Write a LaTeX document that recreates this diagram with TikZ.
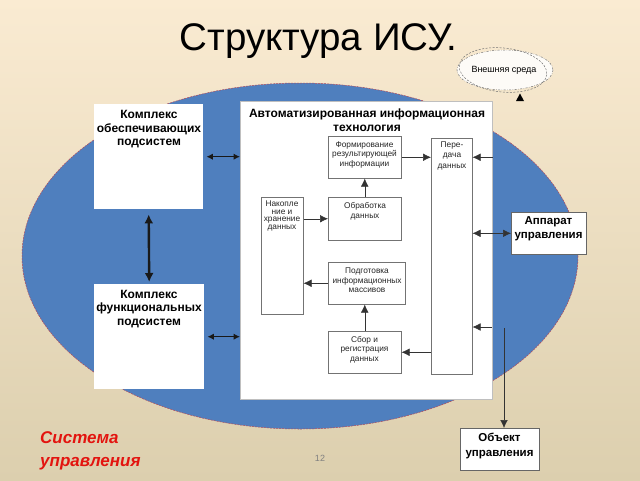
\documentclass[tikz,border=0pt]{standalone}
\usepackage{fontspec}
\setmainfont{Liberation Sans}
\usetikzlibrary{arrows.meta,shapes.geometric}
\definecolor{bgtop}{HTML}{FAEBD2}
\definecolor{bgbot}{HTML}{DCCFAE}
\definecolor{ellblue}{HTML}{4F7FBE}
\definecolor{ellred}{HTML}{B04A5A}
\definecolor{sysred}{HTML}{E3140F}
\begin{document}
\begin{tikzpicture}[x=1pt,y=-1pt,
  wbox/.style={draw=black!55, line width=0.5pt, fill=white, anchor=north west, inner sep=0pt},
  bbox/.style={draw=black!60, line width=0.6pt, fill=white, anchor=north west, inner sep=0pt},
  bigbox/.style={draw=black!25, line width=0.5pt, fill=white, anchor=north west, inner sep=0pt},
  plainbox/.style={fill=white, anchor=north west, inner sep=0pt},
  hd/.style={font=\bfseries\fontsize{12}{13.5}\selectfont, align=center, inner sep=0pt},
  sm/.style={font=\fontsize{8.3}{9.5}\selectfont, align=center, text=black!85, inner sep=0pt},
  arr/.style={-{Latex[length=8pt,width=7.5pt]}, line width=0.5pt, black!80},
  darr/.style={{Latex[length=8pt,width=7.5pt]}-{Latex[length=8pt,width=7.5pt]}, line width=0.5pt, black!80},
  karr/.style={{Latex[length=6.5pt,width=6.5pt]}-{Latex[length=6.5pt,width=6.5pt]}, line width=1.3pt, black!90},
  tarr/.style={{Latex[length=9pt,width=9pt]}-{Latex[length=9pt,width=9pt]}, line width=2.4pt, black!90}
]
\useasboundingbox (0,0) rectangle (640,480);
\shade[top color=bgtop, bottom color=bgbot] (0,0) rectangle (640,480);

% title
\node[font=\fontsize{38.5}{42}\selectfont, inner sep=0pt, anchor=base] (title) at (318.5,50) {Структура ИСУ.};

% big ellipse
\draw[fill=ellblue, draw=ellred, dash pattern=on 2pt off 1pt, line width=0.5pt] (300,256) ellipse [x radius=278, y radius=173];

% external environment cloud
\draw[fill=white, fill opacity=0.85, draw=black!55, dash pattern=on 2pt off 1.5pt on 0.5pt off 1.5pt, line width=0.5pt] (505,70) ellipse [x radius=48, y radius=20];
\draw[draw=black!55, dash pattern=on 2pt off 1.5pt, line width=0.5pt, rotate around={-6:(503,70)}] (503,70) ellipse [x radius=44, y radius=22];
\node[font=\fontsize{9}{10}\selectfont, inner sep=0pt] (ext) at (504,70) {Внешняя среда};
\fill[black] (516,101) -- (524,101) -- (520,93.5) -- cycle;

% left boxes
\node[plainbox, minimum width=109pt, minimum height=105pt] (k1) at (94,104) {};
\node[hd] (k1t) at (149,129.5) {Комплекс\\обеспечивающих\\подсистем};
\node[plainbox, minimum width=110pt, minimum height=105pt] (k2) at (94,284) {};
\node[hd] (k2t) at (149,309) {Комплекс\\функциональных\\подсистем};

% big box
\node[bigbox, minimum width=252pt, minimum height=298pt] (ait) at (240,101) {};
\node[hd] (aitt) at (367,120) {Автоматизированная информационная\\технология};

% inner boxes
\node[wbox, minimum width=73pt, minimum height=42pt] (form) at (328,136) {};
\node[sm] (formt) at (364.5,154.5) {Формирование\\результирующей\\информации};
\node[wbox, minimum width=73pt, minimum height=43pt] (obr) at (328,197) {};
\node[sm] (obrt) at (365,211.5) {Обработка\\данных};
\node[wbox, minimum width=42pt, minimum height=117pt] (nak) at (261,197) {};
\node[sm, font=\fontsize{8.3}{7.8}\selectfont] (nakt) at (282,216) {Накопле\\ние и\\хранение\\данных};
\node[wbox, minimum width=41pt, minimum height=236pt] (per) at (431,138) {};
\node[sm, font=\fontsize{8.3}{10.5}\selectfont] (pert) at (452,155.5) {Пере-\\дача\\данных};
\node[wbox, minimum width=77pt, minimum height=42pt] (podg) at (328,262) {};
\node[sm] (podgt) at (367,280.5) {Подготовка\\информационных\\массивов};
\node[wbox, minimum width=73pt, minimum height=42pt] (sbor) at (328,331) {};
\node[sm] (sbort) at (364.5,349.5) {Сбор и\\регистрация\\данных};

% right boxes
\node[bbox, minimum width=75pt, minimum height=42pt] (app) at (511,212) {};
\node[hd, font=\bfseries\fontsize{11.5}{14}\selectfont] (appt) at (548.5,229) {Аппарат\\управления};
\node[bbox, minimum width=79pt, minimum height=42pt] (obj) at (460,428) {};
\node[hd, font=\bfseries\fontsize{11.5}{15}\selectfont] (objt) at (499.5,446) {Объект\\управления};

% connectors outside
\draw[tarr] ([yshift=-5pt]k1.south) -- ([yshift=2pt]k2.north);
\draw[karr] ([xshift=3pt]k1.east) -- (k1.east -| ait.west);
\draw[karr] ([xshift=3pt]k2.east) -- (k2.east -| ait.west);

% inner connectors
\draw[arr] (form.east) -- (form.east -| per.west);
\draw[arr] (obr.north) -- (form.south);
\draw[arr] (nak.east |- obr.west) -- (obr.west);
\draw[arr] (podg.west) -- (podg.west -| nak.east);
\draw[arr] (sbor.north) -- (sbor.north |- podg.south);
\draw[arr] (sbor.east -| per.west) -- (sbor.east);
\draw[arr] (ait.east |- form.east) -- (per.east |- form.east);
\draw[darr] (per.east |- app.west) -- (app.west);
\coordinate (rin) at (492,327);
\draw[arr] (rin) -- (rin -| per.east);
\coordinate (tap) at (504,328);
\draw[arr] (tap) -- (tap |- obj.north);

% labels
\node[font=\bfseries\itshape\fontsize{17}{23}\selectfont, text=sysred, align=left, anchor=north west, inner sep=0pt] (sys) at (40,431) {Система\\управления};
\node[font=\fontsize{9}{10}\selectfont, text=black!50, inner sep=0pt] (pg) at (320,458) {12};
\end{tikzpicture}
\end{document}
